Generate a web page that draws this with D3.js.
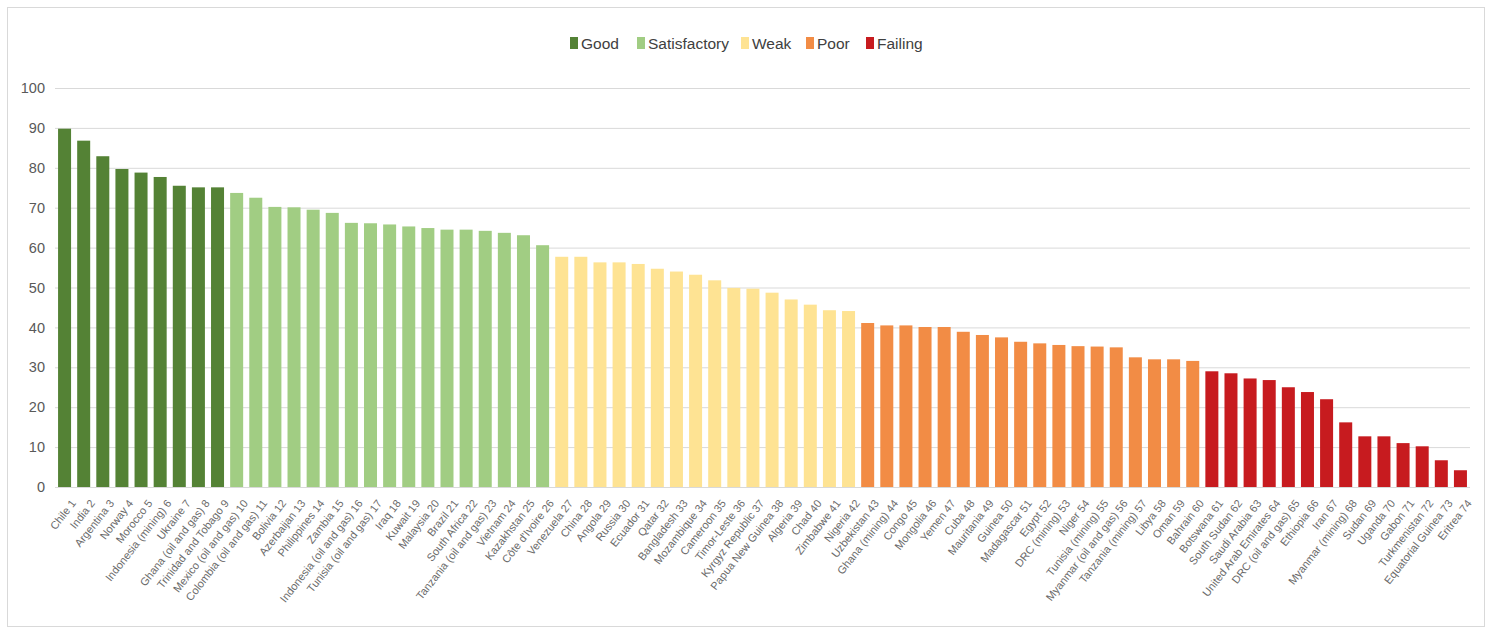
<!DOCTYPE html>
<html>
<head>
<meta charset="utf-8">
<script src="https://cdn.jsdelivr.net/npm/d3@7"></script>
<style>
  body { margin: 0; background: #fff; }
  svg { display: block; }
  .axis text { font-family: "Liberation Sans", Arial, sans-serif; }
</style>
</head>
<body>
<svg id="chart" width="1492" height="632"></svg>
<script>
// country labels, as printed under the bars
var countries = ["Chile", "India", "Argentina", "Norway", "Morocco", "Indonesia (mining)", "Ukraine",
  "Ghana (oil and gas)", "Trinidad and Tobago", "Mexico (oil and gas)", "Colombia (oil and gas)", "Bolivia",
  "Azerbaijan", "Philippines", "Zambia", "Indonesia (oil and gas)", "Tunisia (oil and gas)", "Iraq", "Kuwait",
  "Malaysia", "Brazil", "South Africa", "Tanzania (oil and gas)", "Vietnam", "Kazakhstan", "Côte d'Ivoire",
  "Venezuela", "China", "Angola", "Russia", "Ecuador", "Qatar", "Bangladesh", "Mozambique", "Cameroon",
  "Timor-Leste", "Kyrgyz Republic", "Papua New Guinea", "Algeria", "Chad", "Zimbabwe", "Nigeria", "Uzbekistan",
  "Ghana (mining)", "Congo", "Mongolia", "Yemen", "Cuba", "Mauritania", "Guinea", "Madagascar", "Egypt",
  "DRC (mining)", "Niger", "Tunisia (mining)", "Myanmar (oil and gas)", "Tanzania (mining)", "Libya", "Oman",
  "Bahrain", "Botswana", "South Sudan", "Saudi Arabia", "United Arab Emirates", "DRC (oil and gas)", "Ethiopia",
  "Iran", "Myanmar (mining)", "Sudan", "Uganda", "Gabon", "Turkmenistan", "Equatorial Guinea", "Eritrea"];

// scores
var scores = [89.8, 86.8, 82.9, 79.7, 78.8, 77.7, 75.5, 75.1, 75.1, 73.7, 72.5, 70.2,
  70.1, 69.5, 68.7, 66.2, 66.1, 65.8, 65.3, 64.9, 64.5, 64.5, 64.2, 63.7, 63.1, 60.6,
  57.7, 57.7, 56.3, 56.3, 55.9, 54.7, 54.0, 53.2, 51.8, 49.9, 49.7, 48.7, 47.0, 45.7,
  44.3, 44.1, 41.1, 40.5, 40.5, 40.1, 40.1, 38.9, 38.1, 37.5, 36.4, 36.0, 35.6, 35.3,
  35.2, 35.0, 32.5, 32.0, 32.0, 31.6, 29.0, 28.5, 27.2, 26.8, 25.0, 23.8, 22.0, 16.2,
  12.7, 12.7, 11.0, 10.2, 6.7, 4.2];

// performance band of each bar, and the legend order
var bands = ["Good", "Satisfactory", "Weak", "Poor", "Failing"];
var bandCounts = [9, 17, 16, 18, 14];
var bandColors = ["#548235", "#a1cd83", "#fee393", "#f28c45", "#c71b1f"];
var yTicks = [0, 10, 20, 30, 40, 50, 60, 70, 80, 90, 100];

var data = [];
var b = 0, seen = 0;
countries.forEach(function(c, i) {
  if (i - seen >= bandCounts[b]) { seen += bandCounts[b]; b++; }
  data.push({ label: c + " " + (i + 1), value: scores[i], band: bands[b] });
});

var svg = d3.select("#chart");
var lPad = 55, rEdge = 1470, tPad = 88, baseY = 487;

// chart frame
svg.append("rect")
  .attr("x", 7.5).attr("y", 7.5)
  .attr("width", 1477).attr("height", 619)
  .attr("fill", "#fff").attr("stroke", "#d9d9d9");

var x = d3.scaleBand()
  .domain(data.map(function(d) { return d.label; }))
  .range([lPad, rEdge])
  .paddingInner(0.32)
  .paddingOuter(0.16);

var y = d3.scaleLinear()
  .domain([0, 100])
  .range([baseY, tPad]);

var color = d3.scaleOrdinal().domain(bands).range(bandColors);

// gridlines
svg.append("g")
  .selectAll("line")
  .data(yTicks)
  .enter().append("line")
  .attr("x1", lPad).attr("x2", rEdge)
  .attr("y1", function(d) { return y(d) + 0.5; })
  .attr("y2", function(d) { return y(d) + 0.5; })
  .attr("stroke", "#d9d9d9")
  .attr("stroke-width", 1);

// y axis labels
var yAxis = d3.axisLeft(y).tickValues(yTicks).tickSize(0).tickPadding(10);
svg.append("g")
  .attr("class", "axis")
  .attr("transform", "translate(" + lPad + ",0)")
  .call(yAxis)
  .call(function(g) { g.select(".domain").remove(); })
  .selectAll("text")
  .attr("font-size", 14.5)
  .attr("fill", "#595959");

// bars
svg.append("g")
  .selectAll("rect")
  .data(data)
  .enter().append("rect")
  .attr("x", function(d) { return x(d.label); })
  .attr("y", function(d) { return y(d.value); })
  .attr("width", x.bandwidth())
  .attr("height", function(d) { return baseY - y(d.value); })
  .attr("fill", function(d) { return color(d.band); });

// x axis labels, slanted
var xAxis = d3.axisBottom(x).tickSize(0).tickPadding(10);
svg.append("g")
  .attr("class", "axis")
  .attr("transform", "translate(0," + baseY + ")")
  .call(xAxis)
  .call(function(g) { g.select(".domain").remove(); })
  .selectAll("text")
  .attr("font-size", 11)
  .attr("fill", "#6a6a6a")
  .attr("text-anchor", "end")
  .attr("dy", "0.35em")
  .attr("transform", "translate(1,8) rotate(-52)");

// legend
var legendX = [570, 637, 741, 806, 866];
var legend = svg.append("g").selectAll("g")
  .data(bands)
  .enter().append("g")
  .attr("transform", function(d, i) { return "translate(" + legendX[i] + ",36)"; });
legend.append("rect")
  .attr("width", 8).attr("height", 12)
  .attr("y", 1)
  .attr("fill", function(d) { return color(d); });
legend.append("text")
  .attr("x", 11).attr("y", 12.5)
  .attr("font-family", "Liberation Sans, Arial, sans-serif")
  .attr("font-size", 15.5)
  .attr("fill", "#404040")
  .text(function(d) { return d; });
</script>
</body>
</html>
